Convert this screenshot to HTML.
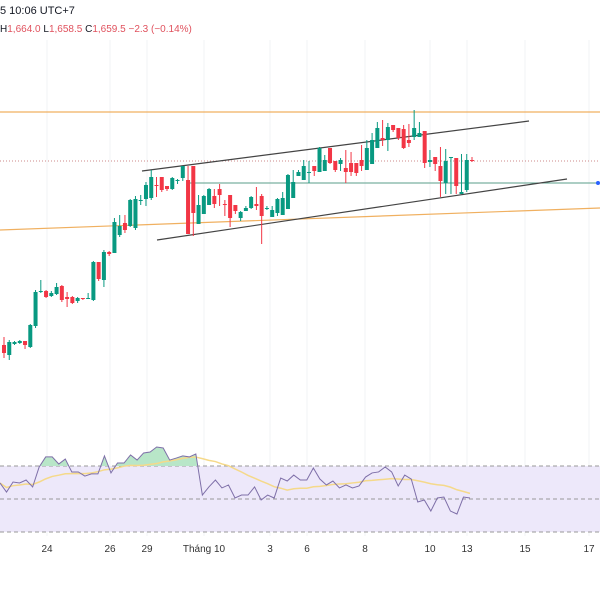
<!DOCTYPE html>
<html><head><meta charset="utf-8"><style>
body{margin:0;background:#fff;width:600px;height:600px;overflow:hidden;font-family:"Liberation Sans","Noto Sans CJK SC",sans-serif}
svg{position:absolute;left:0;top:0}
</style></head><body>
<svg width="600" height="600" id="ch">
<rect x="0" y="0" width="600" height="600" fill="#fff"/>
<g id="grid"></g>
<text x="0" y="14" font-size="11" fill="#131722">5 10:06 UTC+7</text>
<text x="0" y="32" font-size="10" fill="#131722">H<tspan fill="#e0525e">1,664.0</tspan>  L<tspan fill="#e0525e">1,658.5</tspan>  C<tspan fill="#e0525e">1,659.5</tspan>  <tspan fill="#e0525e">−2.3 (−0.14%)</tspan></text>
<line x1="0" y1="112" x2="600" y2="112" stroke="#f0b060" stroke-width="1.2"/>
<line x1="0" y1="230" x2="600" y2="208" stroke="#f0b060" stroke-width="1.2"/>
<line x1="0" y1="161" x2="600" y2="161" stroke="#c88" stroke-width="1" stroke-dasharray="1,2"/>
<line x1="190" y1="183" x2="598" y2="183" stroke="#5a9e8a" stroke-width="1"/>
<circle cx="598" cy="183" r="2" fill="#2962ff"/>
<line x1="142" y1="171" x2="529" y2="121" stroke="#444" stroke-width="1.2"/>
<line x1="157" y1="240" x2="567" y2="179" stroke="#444" stroke-width="1.2"/>
<g id="candles"></g>
<rect x="0" y="466" width="600" height="66" fill="#ede8fa"/>
<line x1="0" y1="466" x2="600" y2="466" stroke="#999" stroke-dasharray="4,3"/>
<line x1="0" y1="499" x2="600" y2="499" stroke="#999" stroke-dasharray="4,3"/>
<line x1="0" y1="532" x2="600" y2="532" stroke="#999" stroke-dasharray="4,3"/>
<defs><clipPath id="ob"><rect x="0" y="0" width="600" height="466"/></clipPath></defs>
<g id="rsi"></g>
<g id="xaxis"></g>
</svg>
<script>
const candleO=[1567.5,1562.5,1568,1568.5,1569.5,1566.5,1577,1594,1594.5,1592,1593,1597,1591.5,1591.5,1589.5,1591,1591,1590,1609,1600,1614,1613.5,1622.5,1628.5,1627,1626,1640,1640.5,1641,1647.5,1651.5,1647,1645.5,1649.5,1651,1650,1657,1628,1633,1637.5,1642,1645.5,1638,1642.5,1637.5,1631,1634.5,1636,1638,1642,1636,1631.5,1633.5,1632.5,1635.5,1641,1652,1650,1653.5,1657,1654,1654.5,1666,1659.5,1658,1656,1658.5,1658.5,1660,1655,1658,1666,1671,1670,1677.5,1676,1675.5,1670,1671.5,1671.5,1674.5,1659,1661.5,1657,1648.5,1661,1661,1643,1645,1660];
const candleC=[1563.5,1569,1569,1569.5,1567.5,1577.5,1594,1594.5,1591.5,1593.5,1596.5,1590,1590.5,1588.5,1591,1590.5,1591,1609,1600.5,1614,1613,1629,1627,1625,1640,1640.5,1640,1647.5,1651.5,1647,1645,1645.5,1651,1650,1657,1623,1633.5,1637.5,1642,1645.5,1638,1642.5,1637.5,1631,1634.5,1634,1636,1641.5,1637,1632,1636,1635,1640.5,1641,1652.5,1649,1654,1657,1654,1654.5,1666,1660,1658.5,1655,1660,1654,1654,1653.5,1657,1666,1670,1676,1670,1676.5,1675,1671,1666,1668.5,1676,1673.5,1658.5,1660,1658,1649.5,1659.5,1661.5,1647,1644,1660,1659.5];
const candleH=[1571.5,1570,1569.5,1570,1569.5,1578,1595,1600,1595,1594.5,1598.5,1597.5,1594,1592,1591.5,1591,1593.5,1609.5,1601,1615,1614.5,1631,1632.5,1632.5,1640.5,1642,1642.5,1649,1655,1651.5,1647.5,1646,1651.5,1650.5,1657,1657,1640,1642.5,1642.5,1646,1645.5,1648,1640,1636,1635,1634.5,1637,1642,1646.5,1643,1637,1637,1641,1644,1653,1655,1655,1660,1659.5,1656.5,1666.5,1662.5,1660,1657,1661,1665,1664,1658,1667.5,1670,1673.5,1679,1680,1678.5,1676.5,1671,1677.5,1678,1685,1679,1665,1665,1659,1666.5,1665.5,1647,1647,1663,1663,1661.5];
const candleL=[1561,1560,1567.5,1568,1565.5,1566,1576,1593.5,1591,1591.5,1592.5,1589,1586.5,1588,1588.5,1590,1590.5,1589.5,1599.5,1596.5,1612,1620,1621.5,1623.5,1626.5,1625,1637.5,1637,1640,1641.5,1644,1644.5,1645,1648,1649.5,1623,1622,1632,1636,1641,1636,1637,1632,1626.5,1633,1629.5,1635,1635.5,1635,1618,1635,1634,1632,1636,1644,1647,1652,1651.5,1648.5,1652,1654.5,1657,1658,1654,1654.5,1648.5,1652,1652,1654.5,1664,1669.5,1673.5,1667,1664.5,1674,1670,1665.5,1666.5,1670,1671.5,1656,1656.5,1654.5,1641.5,1643,1643,1643,1643,1644,1659];
const rsiValues=[59.7,54.2,60.3,59.7,61.5,57.3,69.4,75.5,75.5,71.2,74.2,66.4,66.4,63.9,65.2,65.2,76.1,65.8,71.8,71.8,76.7,73.6,77.9,78.5,81.5,80.9,73.6,74.8,76.1,75.5,77.3,52.4,57.3,61.5,56.7,58.5,50.6,52.4,52.4,57.3,49.4,52.4,50.6,62.7,60.9,64.5,61.5,61.5,68.8,62.1,58.5,60.9,56.7,58.5,56.7,57.9,63.3,65.8,66.4,69.4,66.4,57.9,64.5,62.1,48.2,49.4,42.7,50.6,51.2,42.7,40.9,51.2,50.6];
const xTickLabels=["24","26","29","Tháng 10","3","6","8","10","13","15","17"];
const xTickPos=[47,110,147,204,270,307,365,430,467,525,589];
const NS="http://www.w3.org/2000/svg";
function mk(t,a,p){const e=document.createElementNS(NS,t);for(const k in a)e.setAttribute(k,a[k]);p.appendChild(e);return e;}
const n=Math.min(candleO.length,candleC.length,candleH.length,candleL.length);
const xScale=i=>4+i*(468/(n-1));
const yScale=p=>(1740-p)*2;
const rx=i=>i*(470/(rsiValues.length-1));
const ry=v=>499-(v-50)*1.65;
const grid=document.getElementById('grid');
xTickPos.forEach(x=>{const l=mk('line',{x1:x,y1:40,x2:x,y2:536,stroke:'#f2f3f5'},grid);

});
const cg=document.getElementById('candles');
for(let i=0;i<n;i++){
 const o=candleO[i],c=candleC[i],col=c>=o?'#089981':'#f23645',x=xScale(i);
 const hi=Math.max(candleH[i],o,c),lo=Math.min(candleL[i],o,c);
 const w=mk('line',{x1:x,x2:x,y1:yScale(hi),y2:yScale(lo),stroke:col,'stroke-width':1},cg);
 
 
 const top=Math.min(yScale(o),yScale(c)),h=Math.max(1,Math.abs(yScale(o)-yScale(c)));
 const b=mk('rect',{x:x-2,y:top,width:4,height:h,fill:col},cg);
 
 
}
const rg=document.getElementById('rsi');
const pts=rsiValues.map((v,i)=>rx(i)+','+ry(v));
const fill=mk('polygon',{points:rx(0)+',466 '+pts.join(' ')+' '+rx(rsiValues.length-1)+',466',fill:'#b8e6c8','clip-path':'url(#ob)'},rg);


const ma=rsiValues.map((v,i)=>{const s=rsiValues.slice(Math.max(0,i-13),i+1);return s.reduce((a,b)=>a+b,0)/s.length;});
const mal=mk('polyline',{points:ma.map((v,i)=>rx(i)+','+ry(v)).join(' '),fill:'none',stroke:'#f5d98a','stroke-width':1.5},rg);


const rl=mk('polyline',{points:pts.join(' '),fill:'none',stroke:'#7e6fa8','stroke-width':1},rg);


const xa=document.getElementById('xaxis');
xTickLabels.forEach((t,i)=>{const e=mk('text',{x:xTickPos[i],y:552,'font-size':10,fill:'#333','text-anchor':'middle'},xa);e.textContent=t;

});
</script>
</body></html>
